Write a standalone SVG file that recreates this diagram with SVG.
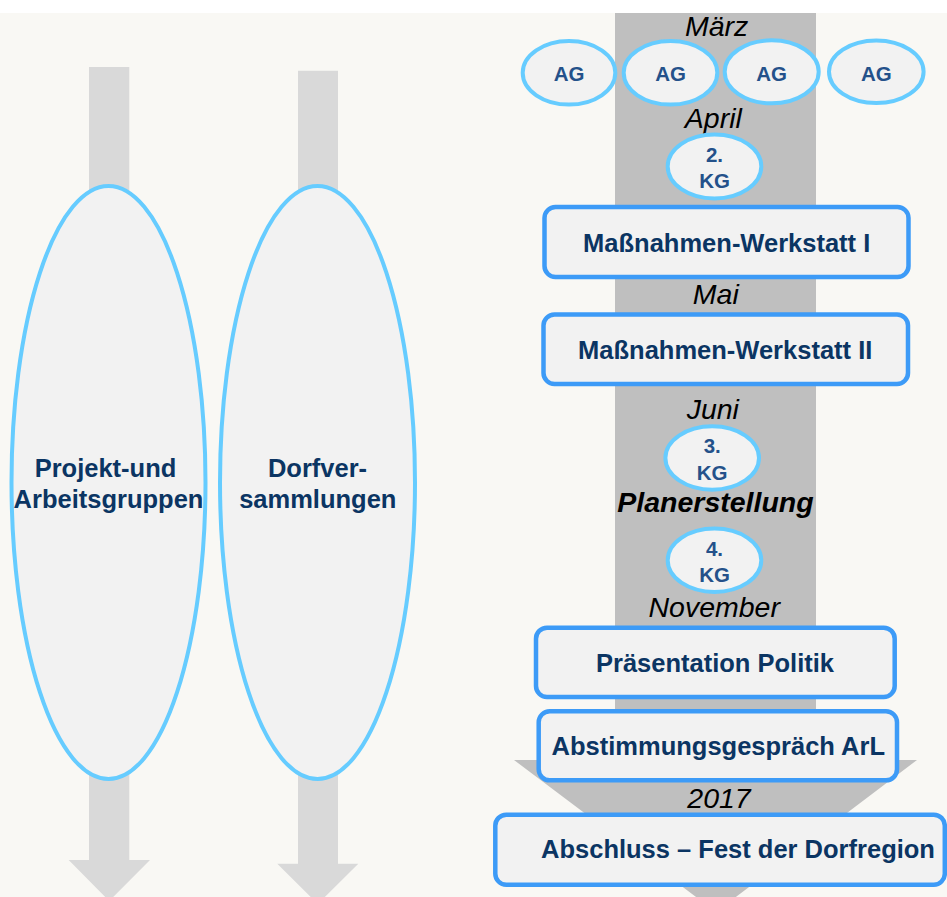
<svg xmlns="http://www.w3.org/2000/svg" width="947" height="897" viewBox="0 0 947 897">
<style>
.arrowL{fill:#D9D9D9}
.arrowR{fill:#BFBFBF}
.ell{fill:#F2F2F2;stroke:#66CCFF;stroke-width:4}
.box{fill:#F2F2F2;stroke:#3D9BF7;stroke-width:4.5}
.big{font-family:"Liberation Sans",Arial,sans-serif;font-weight:bold;font-size:25.5px;fill:#0B3563;text-anchor:middle}
.small{font-family:"Liberation Sans",Arial,sans-serif;font-weight:bold;font-size:20.5px;fill:#24518A;text-anchor:middle}
.month{font-family:"Liberation Sans",Arial,sans-serif;font-style:italic;font-size:28.5px;fill:#000;text-anchor:middle}
</style>
<rect x="0" y="0" width="947" height="897" fill="#FFFFFF"/>
<rect x="0" y="13" width="947" height="884" fill="#F9F8F4"/>
<g id="connectors">
<polygon class="arrowL" points="89,67 129.3,67 129.3,860 150,860 109.2,901 68.7,860 89,860"/>
<polygon class="arrowL" points="298,70.7 338,70.7 338,863.7 358.3,863.7 317.8,904 277.3,863.7 298,863.7"/>
<polygon class="arrowR" points="615,13 816,13 816,760 917,760 716,912 514,760 615,760"/>
</g>
<g id="node-projekt">
<ellipse class="ell" cx="108.5" cy="482.5" rx="97" ry="296.5"/>
<text class="big" x="105.5" y="476.7">Projekt-und</text>
<text class="big" x="108.5" y="508">Arbeitsgruppen</text>
</g>
<g id="node-dorf">
<ellipse class="ell" cx="317.5" cy="482.5" rx="97.5" ry="296.5"/>
<text class="big" x="317.5" y="476.7">Dorfver-</text>
<text class="big" x="317.8" y="508">sammlungen</text>
</g>
<g id="labels-months">
<text class="month" x="716.7" y="36">März</text>
<text class="month" x="713.3" y="127.7">April</text>
<text class="month" x="715.8" y="304.3">Mai</text>
<text class="month" x="712.8" y="419">Juni</text>
<text class="month" x="715.5" y="511.7" font-weight="bold">Planerstellung</text>
<text class="month" x="714.2" y="616.7">November</text>
<text class="month" x="719" y="808.3">2017</text>
</g>
<g id="node-ag1">
<ellipse class="ell" cx="569" cy="72.8" rx="46.3" ry="31.8"/>
<text class="small" x="569" y="80.7">AG</text>
</g>
<g id="node-ag2">
<ellipse class="ell" cx="670.5" cy="72.8" rx="46.8" ry="31.8"/>
<text class="small" x="670.5" y="80.7">AG</text>
</g>
<g id="node-ag3">
<ellipse class="ell" cx="771.7" cy="71.8" rx="47" ry="31.5"/>
<text class="small" x="771.7" y="80.7">AG</text>
</g>
<g id="node-ag4">
<ellipse class="ell" cx="876.3" cy="71.7" rx="47.3" ry="31.3"/>
<text class="small" x="876.3" y="80.7">AG</text>
</g>
<g id="node-kg2">
<ellipse class="ell" cx="714.5" cy="166.5" rx="46.8" ry="32"/>
<text class="small" x="714.5" y="161.7">2.</text>
<text class="small" x="714.5" y="188.3">KG</text>
</g>
<g id="node-werkstatt1">
<rect class="box" x="544.5" y="207" width="364" height="70" rx="11"/>
<text class="big" x="726.7" y="252.3">Maßnahmen-Werkstatt I</text>
</g>
<g id="node-werkstatt2">
<rect class="box" x="543.5" y="314.5" width="364.5" height="69.5" rx="11"/>
<text class="big" x="725.2" y="359">Maßnahmen-Werkstatt II</text>
</g>
<g id="node-kg3">
<ellipse class="ell" cx="712.2" cy="458" rx="46.8" ry="31.7"/>
<text class="small" x="712.2" y="453.3">3.</text>
<text class="small" x="712.2" y="480">KG</text>
</g>
<g id="node-kg4">
<ellipse class="ell" cx="714.5" cy="560.3" rx="46.8" ry="31.7"/>
<text class="small" x="714.5" y="555.7">4.</text>
<text class="small" x="714.5" y="582.3">KG</text>
</g>
<g id="node-praesentation">
<rect class="box" x="536" y="627.7" width="358.7" height="69.3" rx="11"/>
<text class="big" x="715" y="671.7">Präsentation Politik</text>
</g>
<g id="node-abstimmung">
<rect class="box" x="538.7" y="711.3" width="358.3" height="69" rx="11"/>
<text class="big" x="718.3" y="755">Abstimmungsgespräch ArL</text>
</g>
<g id="node-abschluss">
<rect class="box" x="495.3" y="814.7" width="449.5" height="70" rx="11"/>
<text class="big" x="738" y="858.3">Abschluss – Fest der Dorfregion</text>
</g>
</svg>
